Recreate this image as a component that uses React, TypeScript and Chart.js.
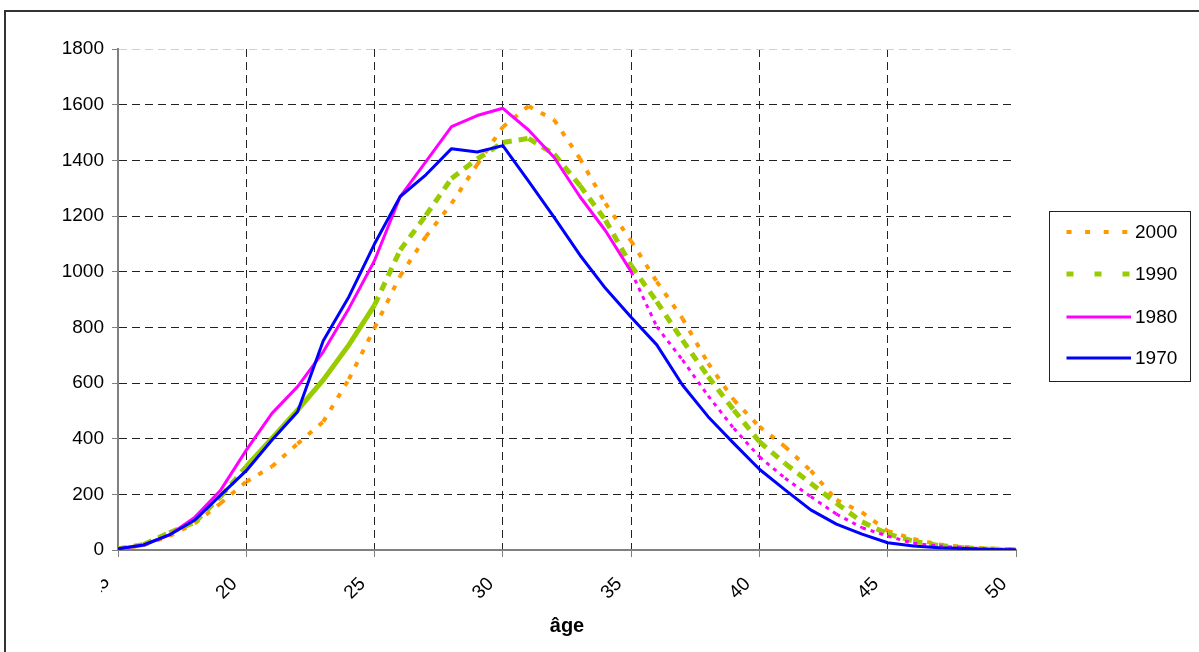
import React, { useEffect, useRef } from "react";
import { Chart, registerables } from "chart.js";

Chart.register(...registerables);

// ---------- data ----------
const ages = [15, 16, 17, 18, 19, 20, 21, 22, 23, 24, 25, 26, 27, 28, 29, 30, 31, 32, 33, 34, 35, 36, 37, 38, 39, 40, 41, 42, 43, 44, 45, 46, 47, 48, 49, 50];
const values2000 = [3, 18, 50, 96, 168, 245, 300, 382, 461, 614, 798, 985, 1126, 1245, 1385, 1520, 1595, 1545, 1407, 1245, 1110, 964, 832, 671, 539, 443, 371, 285, 180, 135, 68, 40, 20, 10, 5, 3];
const values1990 = [4, 20, 62, 100, 192, 300, 401, 503, 611, 737, 880, 1078, 1202, 1335, 1405, 1464, 1479, 1422, 1310, 1185, 1022, 892, 754, 623, 503, 389, 311, 240, 168, 101, 58, 32, 16, 8, 3, 1];
const values1980 = [4, 18, 54, 118, 215, 359, 491, 587, 712, 868, 1040, 1270, 1395, 1521, 1561, 1587, 1509, 1410, 1270, 1147, 1000, 802, 683, 554, 437, 335, 258, 192, 129, 80, 50, 24, 14, 8, 4, 2];
const values1970 = [4, 18, 54, 108, 197, 285, 395, 497, 752, 910, 1100, 1270, 1348, 1442, 1430, 1453, 1325, 1195, 1060, 940, 836, 737, 593, 479, 383, 290, 216, 144, 93, 57, 26, 14, 8, 5, 2, 1];
const xTickValues = [15, 20, 25, 30, 35, 40, 45, 50];
const xAxisTitle = "âge";
const legendNames = ["2000", "1990", "1980", "1970"];

// ---------- styles ----------
const FONT = "'Liberation Sans', Arial, sans-serif";
const C2000 = "#FF9900";
const C1990 = "#99CC00";
const C1980 = "#FF00FF";
const C1970 = "#0000FF";

const toPoints = (vals: number[]) => vals.map((v, i) => ({ x: ages[i], y: v }));

const restart = (c: any) => (c.p0DataIndex % 2) * 0.001;

const decorPlugin = {
  id: "decor",
  beforeDraw(chart: any) {
    const ctx = chart.ctx;
    ctx.save();
    ctx.fillStyle = "#ffffff";
    ctx.fillRect(0, 0, chart.width, chart.height);
    ctx.strokeStyle = "#333333";
    ctx.lineWidth = 2;
    ctx.beginPath();
    ctx.moveTo(5, chart.height + 5);
    ctx.lineTo(5, 11);
    ctx.lineTo(chart.width + 5, 11);
    ctx.stroke();
    ctx.restore();
  },
  afterDraw(chart: any) {
    const ctx = chart.ctx;
    ctx.save();
    // legend box
    ctx.strokeStyle = "#222222";
    ctx.lineWidth = 1;
    ctx.strokeRect(1049.5, 211.5, 141, 170);
    const rows = [
      { color: C2000, dash: [5, 13.6], width: 4, y: 232 },
      { color: C1990, dash: [7, 21], width: 5, y: 274 },
      { color: C1980, dash: [], width: 3, y: 317 },
      { color: C1970, dash: [], width: 3, y: 358 },
    ];
    rows.forEach((r, i) => {
      ctx.beginPath();
      ctx.setLineDash(r.dash);
      ctx.lineCap = "butt";
      ctx.strokeStyle = r.color;
      ctx.lineWidth = r.width;
      ctx.moveTo(1066.5, r.y);
      ctx.lineTo(1131, r.y);
      ctx.stroke();
      ctx.setLineDash([]);
      ctx.fillStyle = "#000";
      ctx.font = `19px ${FONT}`;
      ctx.textAlign = "left";
      ctx.textBaseline = "middle";
      ctx.fillText(legendNames[i], 1135, r.y + 1);
    });
    // first x label, clipped as in the original
    const xs = chart.scales.x;
    const px = xs.getPixelForValue(xTickValues[0]);
    ctx.beginPath();
    ctx.rect(101, 560, 30, 40);
    ctx.clip();
    ctx.translate(px - 11.3, 579.3);
    ctx.rotate(-Math.PI / 4);
    ctx.font = `19px ${FONT}`;
    ctx.textAlign = "right";
    ctx.textBaseline = "middle";
    ctx.fillStyle = "#000";
    ctx.fillText(String(xTickValues[0]), 0, 0);
    ctx.restore();
  },
};

export default function App() {
  const ref = useRef<HTMLCanvasElement | null>(null);
  useEffect(() => {
    document.body.style.margin = "0";
    const canvas = ref.current;
    if (!canvas) return;
    const chart = new Chart(canvas, {
      type: "line",
      data: {
        datasets: [
          {
            label: legendNames[3],
            data: toPoints(values1970),
            borderColor: C1970,
            borderWidth: 3,
            pointRadius: 0,
            borderJoinStyle: "round",
            fill: false,
            tension: 0,
          },
          {
            label: legendNames[2],
            data: toPoints(values1980),
            borderColor: C1980,
            borderWidth: 3,
            pointRadius: 0,
            borderJoinStyle: "round",
            fill: false,
            tension: 0,
            segment: {
              borderDash: (c: any) => (c.p0DataIndex >= 20 ? [4, 5] : []),
              borderDashOffset: (c: any) => (c.p0DataIndex >= 20 ? restart(c) : 0),
            },
          },
          {
            label: legendNames[1],
            data: toPoints(values1990),
            borderColor: C1990,
            borderWidth: 5,
            pointRadius: 0,
            fill: false,
            tension: 0,
            segment: {
              borderDash: (c: any) => (c.p0DataIndex >= 5 && c.p0DataIndex < 10 ? [] : [9, 7]),
              borderDashOffset: (c: any) => (c.p0DataIndex >= 5 && c.p0DataIndex < 10 ? 0 : restart(c)),
            },
          },
          {
            label: legendNames[0],
            data: toPoints(values2000),
            borderColor: C2000,
            borderWidth: 4,
            pointRadius: 0,
            fill: false,
            tension: 0,
            borderDash: [5, 9],
            segment: {
              borderDash: () => [5, 9],
              borderDashOffset: (c: any) => restart(c),
            },
          },
        ],
      },
      options: {
        responsive: false,
        animation: false,
        events: [],
        layout: { padding: { left: 0, top: 49, right: 183, bottom: 0 } },
        plugins: { legend: { display: false }, tooltip: { enabled: false } },
        scales: {
          x: {
            type: "linear",
            min: 15,
            max: 50,
            afterFit: (s: any) => {
              s.height = 102;
            },
            grid: {
              color: (c: any) => (c.tick && (c.tick.value === 15 || c.tick.value === 50) ? "rgba(0,0,0,0)" : "#222"),
              lineWidth: 1,
              tickLength: 7,
              tickColor: "#808080",
            },
            border: { display: true, color: "#808080", width: 2, dash: [8, 5] },
            ticks: {
              stepSize: 5,
              autoSkip: false,
              minRotation: 45,
              maxRotation: 45,
              padding: 16,
              labelOffset: -12,
              color: "#000",
              font: { family: FONT, size: 19 },
              callback: (v: any) => (v === xTickValues[0] ? "" : String(v)),
            },
            title: {
              display: true,
              text: xAxisTitle,
              color: "#000",
              font: { family: FONT, size: 20, weight: "bold" },
              padding: { top: 0, bottom: 14 },
            },
          },
          y: {
            min: 0,
            max: 1800,
            afterFit: (s: any) => {
              s.width = 118;
            },
            grid: {
              color: (c: any) =>
                c.tick && c.tick.value === 0 ? "rgba(0,0,0,0)" : c.tick && c.tick.value === 1800 ? "#d0d0d0" : "#222",
              lineWidth: 1,
              tickLength: 6,
              tickColor: "#808080",
            },
            border: { display: true, color: "#808080", width: 2, dash: [8, 5] },
            ticks: {
              stepSize: 200,
              padding: 8,
              color: "#000",
              font: { family: FONT, size: 19 },
              callback: (v: any) => String(v),
            },
          },
        },
      },
      plugins: [decorPlugin],
    } as any);
    return () => chart.destroy();
  }, []);
  return (
    <div style={{ width: 1199, height: 652, position: "relative" }}>
      <canvas ref={ref} width={1199} height={652} style={{ display: "block", width: 1199, height: 652 }} />
    </div>
  );
}
